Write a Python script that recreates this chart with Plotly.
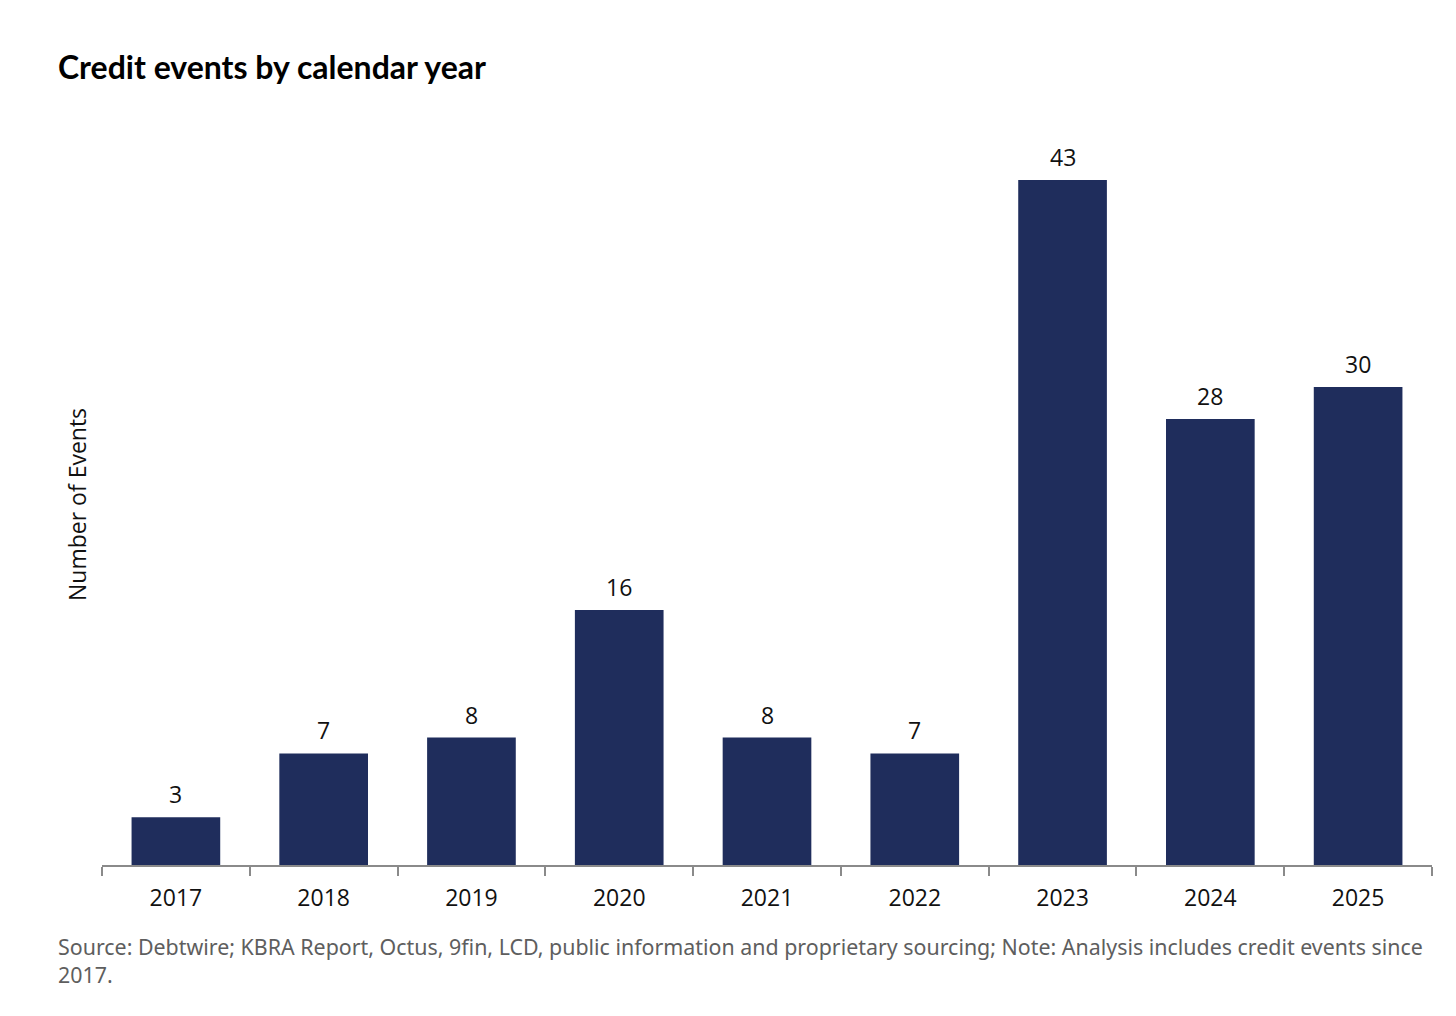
import plotly.graph_objects as go

years = ["2017", "2018", "2019", "2020", "2021", "2022", "2023", "2024", "2025"]
events = [3, 7, 8, 16, 8, 7, 43, 28, 30]

OFF = 8  # page body margin
W, H = 1456 - OFF, 1016 - OFF
# screen coordinates of plot area
sx0, sx1, sy0, sy1 = 102, 1432, 100, 865
L, R, T, B = sx0 - OFF, (1456 - sx1), sy0 - OFF, H - (sy1 - OFF)
pw, ph = W - L - R, H - T - B
pxu = 15.93

def px(sx):
    return (sx - sx0) / pw

def py(sy):
    return (sy1 - sy) / ph

fig = go.Figure(go.Bar(
    x=years, y=events,
    marker=dict(color="#1f2d5c", line=dict(width=0)),
    width=0.6,
    cliponaxis=False,
    hoverinfo="x+y",
))

annotations = [
    dict(x=i, y=v, xref="x", yref="y", text=str(v), showarrow=False,
         yshift=23, yanchor="middle", xanchor="center",
         font=dict(family="Open Sans", size=23, color="#111111"))
    for i, v in enumerate(events)
]

annotations += [
    dict(text="<b>Credit events by calendar year</b>", xref="paper", yref="paper",
         x=px(56), y=py(67), xanchor="left", yanchor="middle",
         showarrow=False, font=dict(family="Lato", size=32, color="#000000")),
    dict(text="Number of Events", xref="paper", yref="paper", textangle=-90,
         x=px(77), y=py(505), xanchor="center", yanchor="middle",
         showarrow=False, font=dict(family="Open Sans", size=23, color="#111111")),
    dict(text="Source: Debtwire; KBRA Report, Octus, 9fin, LCD, public information and proprietary sourcing; Note: Analysis includes credit events since<br>2017.",
         xref="paper", yref="paper", x=px(56), y=py(960),
         xanchor="left", yanchor="middle", align="left", showarrow=False,
         font=dict(family="Noto Sans", size=21.4, color="#5e5e5e")),
]

fig.update_layout(
    width=W, height=H,
    margin=dict(l=L, r=R, t=T, b=B, pad=0),
    paper_bgcolor="white", plot_bgcolor="white",
    showlegend=False,
    xaxis=dict(
        type="category", categoryorder="array", categoryarray=years,
        range=[-0.5, len(years) - 0.5],
        showline=True, linecolor="#8a8a8a", linewidth=1.5,
        ticks="outside", tickson="boundaries", ticklen=9, tickcolor="#8a8a8a", tickwidth=1.5,
        tickfont=dict(family="Open Sans", size=23, color="#111111"),
        tickangle=0, ticklabelstandoff=12,
        showgrid=False, zeroline=False,
    ),
    yaxis=dict(range=[0, ph / pxu], visible=False, showgrid=False, fixedrange=True),
    annotations=annotations,
)

fig.write_html("out.html")
